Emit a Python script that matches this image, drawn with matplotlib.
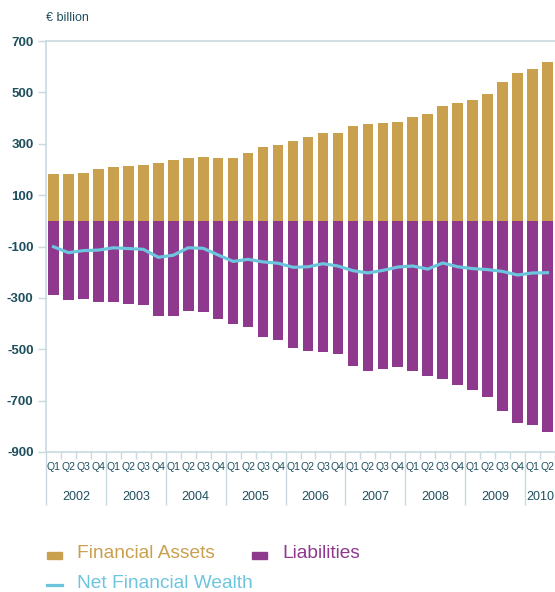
import matplotlib
matplotlib.use('Agg')
import matplotlib.pyplot as plt
from matplotlib.patches import Rectangle
from matplotlib.lines import Line2D
import numpy as np

plt.rcParams['font.family'] = ['Liberation Sans', 'DejaVu Sans']

years = ['2002', '2003', '2004', '2005', '2006', '2007', '2008', '2009', '2010']
quarters = ['Q1', 'Q2', 'Q3', 'Q4']

assets = [182, 182, 186, 202, 209, 215, 218, 225, 237, 244, 248, 244, 244, 264, 287, 295,
          311, 326, 342, 342, 369, 377, 381, 385, 404, 416, 447, 458, 470, 494, 541, 576,
          591, 618]
liabilities = [-289, -308, -304, -316, -316, -324, -328, -371, -371, -351, -355, -382, -402,
               -413, -452, -464, -495, -507, -511, -518, -565, -584, -576, -568, -584, -603,
               -615, -638, -658, -686, -740, -788, -795, -822]
net_wealth = [-101, -124, -116, -114, -105, -108, -111, -142, -134, -105, -107, -133, -158,
              -150, -160, -165, -181, -179, -167, -176, -194, -203, -193, -180, -176, -188,
              -164, -179, -186, -190, -197, -211, -203, -202]
y_ticks = [700, 500, 300, 100, -100, -300, -500, -700, -900]

gold = '#C8A04E'
purple = '#8E388E'
blue = '#6CC5DD'
axis_col = '#C8DADF'
text_col = '#1E4F5E'

fig = plt.figure(figsize=(5.55, 5.92), dpi=100)
ax = fig.add_axes([46 / 555, 140 / 592, 1 - 46 / 555, 411 / 592])

x = np.arange(len(assets))
ax.bar(x, assets, width=0.71, color=gold, zorder=2)
ax.bar(x, liabilities, width=0.71, color=purple, zorder=2)
ax.plot(x, net_wealth, color=blue, lw=2.3, zorder=3, solid_joinstyle='round')

ax.set_ylim(-900, 700)
ax.set_xlim(-0.5, 33.2)
ax.set_yticks(y_ticks)
ax.set_yticklabels([str(v) for v in y_ticks])
ax.tick_params(axis='y', length=6, width=1, color=axis_col, labelcolor=text_col,
               labelsize=9.5, pad=3)
for lbl in ax.get_yticklabels():
    lbl.set_fontweight('bold')

# x ticks: long at year boundaries, short at quarter boundaries
ax.set_xticks(np.arange(-0.5, 34, 4))
ax.set_xticks(np.arange(-0.5, 34, 1), minor=True)
ax.tick_params(axis='x', which='major', length=38, width=1, color=axis_col, labelbottom=False)
ax.tick_params(axis='x', which='minor', length=5, width=1, color=axis_col)

for s in ['left', 'top', 'bottom']:
    ax.spines[s].set_color(axis_col)
    ax.spines[s].set_linewidth(1.2)
ax.spines['right'].set_visible(False)

tr = ax.get_xaxis_transform()
for i in range(len(assets)):
    ax.text(i, -0.037, quarters[i % 4], transform=tr, ha='center', va='center',
            fontsize=7.5, color=text_col, clip_on=False)
for j, yr in enumerate(years):
    # the last year only has two quarters shown
    xc = j * 4 + 1.5 if j < len(years) - 1 else j * 4 + 0.5
    ax.text(xc, -0.11, yr, transform=tr, ha='center', va='center',
            fontsize=9, color=text_col, clip_on=False)

fig.text(46 / 555, 1 - 18 / 592, '€ billion', ha='left', va='center', fontsize=9,
         color=text_col)

# legend drawn by hand
fig.add_artist(Rectangle((47 / 555, 1 - 559 / 592), 15 / 555, 7 / 592,
                         transform=fig.transFigure, color=gold))
fig.text(77 / 555, 1 - 554 / 592, 'Financial Assets', color=gold, fontsize=13.8,
         ha='left', va='center')
fig.add_artist(Rectangle((252 / 555, 1 - 559 / 592), 15 / 555, 7 / 592,
                         transform=fig.transFigure, color=purple))
fig.text(282 / 555, 1 - 554 / 592, 'Liabilities', color=purple, fontsize=13.8,
         ha='left', va='center')
fig.add_artist(Line2D([47 / 555, 62 / 555], [1 - 585 / 592, 1 - 585 / 592],
                      transform=fig.transFigure, color=blue, lw=2.3))
fig.text(77 / 555, 1 - 584 / 592, 'Net Financial Wealth', color=blue, fontsize=13.8,
         ha='left', va='center')

plt.savefig('out.png', dpi=100)
